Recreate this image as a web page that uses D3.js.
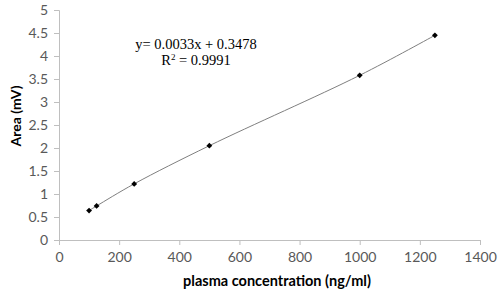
<!DOCTYPE html>
<html>
<head>
<meta charset="utf-8">
<script src="https://cdn.jsdelivr.net/npm/d3@7"></script>
<style>
  body { margin: 0; background: #fff; }
  svg text { font-family: Lato, "Open Sans", sans-serif; }
</style>
</head>
<body>
<div id="chart"></div>
<script>
// Calibration data
const concentrations = [100, 125, 250, 500, 1000, 1250];
const areas = [0.64, 0.74, 1.22, 2.05, 3.58, 4.45];
const xTicks = [0, 200, 400, 600, 800, 1000, 1200, 1400];
const yTicks = [0, 0.5, 1, 1.5, 2, 2.5, 3, 3.5, 4, 4.5, 5];
const equationLines = ["y= 0.0033x + 0.3478", "R2 = 0.9991"];

const W = 500, H = 294;
const margin = {top: 10, right: 20, bottom: 54, left: 59};
const width = W - margin.left - margin.right;
const height = H - margin.top - margin.bottom;

const svg = d3.select("#chart").append("svg")
    .attr("width", W)
    .attr("height", H);

const g = svg.append("g")
    .attr("transform", `translate(${margin.left},${margin.top})`);

const x = d3.scaleLinear().domain([0, 1400]).range([0, width]);
const y = d3.scaleLinear().domain([0, 5]).range([height, 0]);

// axes - Excel style grey lines, ticks outside
const xAxis = g.append("g")
    .attr("transform", `translate(0,${height})`)
    .call(d3.axisBottom(x).tickValues(xTicks).tickSize(5).tickPadding(7).tickFormat(d3.format("d")));

const yAxis = g.append("g")
    .call(d3.axisLeft(y).tickValues(yTicks).tickSize(5).tickPadding(6).tickFormat(d => d));

[xAxis, yAxis].forEach(a => {
    a.select(".domain").attr("stroke", "#bfbfbf");
    a.selectAll(".tick line").attr("stroke", "#bfbfbf");
    a.selectAll("text")
        .attr("fill", "#595959")
        .style("font-size", "14px");
});

// smoothed trend line through points
const line = d3.line()
    .x((d, i) => x(concentrations[i]))
    .y(d => y(d))
    .curve(d3.curveCatmullRom.alpha(0.5));

g.append("path")
    .datum(areas)
    .attr("d", line)
    .attr("fill", "none")
    .attr("stroke", "#7f7f7f")
    .attr("stroke-width", 1);

// diamond markers (square turned 45 degrees, like Excel)
const marker = d3.symbol().type(d3.symbolSquare).size(17);
g.selectAll(".pt")
    .data(areas)
    .enter()
    .append("path")
    .attr("class", "pt")
    .attr("d", marker)
    .attr("transform", (d, i) => `translate(${x(concentrations[i])},${y(d)}) rotate(45)`)
    .attr("fill", "#000");

// regression equation
const eq = svg.append("text")
    .attr("x", 196)
    .attr("y", 49)
    .attr("text-anchor", "middle")
    .style("font-family", "'Liberation Serif', 'Times New Roman', serif")
    .style("font-size", "14.5px")
    .attr("fill", "#000")
    .text(equationLines[0]);

const r2 = svg.append("text")
    .attr("x", 196)
    .attr("y", 65)
    .attr("text-anchor", "middle")
    .style("font-family", "'Liberation Serif', 'Times New Roman', serif")
    .style("font-size", "14.5px")
    .attr("fill", "#000");
r2.append("tspan").text("R");
r2.append("tspan").attr("dy", -5).style("font-size", "9px").text("2");
r2.append("tspan").attr("dy", 5).text(" = 0.9991");

// axis titles
svg.append("text")
    .attr("x", 277)
    .attr("y", 286)
    .attr("text-anchor", "middle")
    .style("font-size", "14.5px")
    .style("font-weight", "bold")
    .attr("fill", "#000")
    .text("plasma concentration (ng/ml)");

svg.append("text")
    .attr("transform", "translate(21,116) rotate(-90)")
    .attr("text-anchor", "middle")
    .style("font-size", "14px")
    .style("font-weight", "bold")
    .attr("fill", "#000")
    .text("Area (mV)");
</script>
</body>
</html>
